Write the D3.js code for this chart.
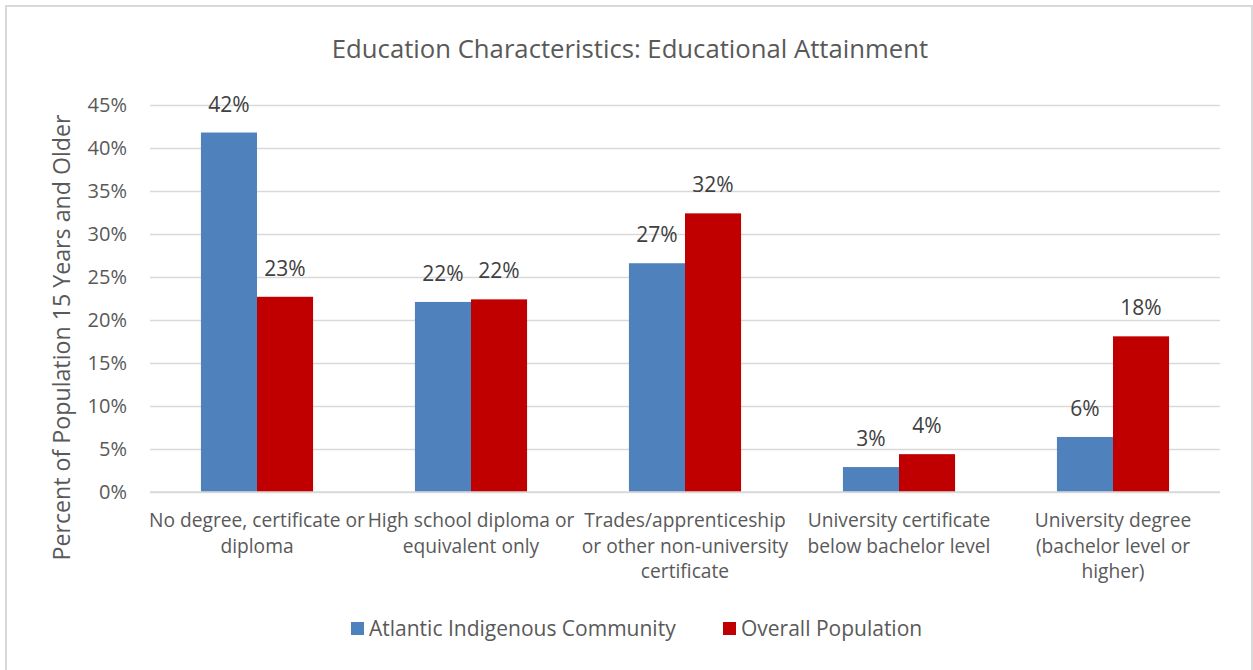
<!DOCTYPE html>
<html>
<head>
<meta charset="utf-8">
<script src="https://cdn.jsdelivr.net/npm/d3@7/dist/d3.min.js"></script>
<style>
  html, body { margin: 0; padding: 0; background: #ffffff; }
  svg { display: block; }
  text { font-family: "Open Sans", Lato, sans-serif; }
</style>
</head>
<body>
<svg id="chart" width="1253" height="670"></svg>
<script>
// Educational attainment, share of population aged 15+ (%)
const categories = [
  "No degree, certificate or\ndiploma",
  "High school diploma or\nequivalent only",
  "Trades/apprenticeship\nor other non-university\ncertificate",
  "University certificate\nbelow bachelor level",
  "University degree\n(bachelor level or\nhigher)"
];
const seriesNames = ["Atlantic Indigenous Community", "Overall Population"];
const indigenousValues = [41.8, 22.1, 26.6, 2.9, 6.4];
const overallValues = [22.7, 22.4, 32.4, 4.4, 18.1];
const yTicks = [0, 5, 10, 15, 20, 25, 30, 35, 40, 45];
const seriesColors = ["#4f81bd", "#c00000"];

const FONT = "'Open Sans', Lato, sans-serif";
const svg = d3.select("#chart");
const W = 1253, H = 670;
const plot = { left: 150, right: 1220, top: 105, bottom: 492 };

// Outer chart frame
svg.append("rect")
  .attr("x", 6).attr("y", 6)
  .attr("width", W - 7).attr("height", H)
  .attr("fill", "#ffffff")
  .attr("stroke", "#d9d9d9").attr("stroke-width", 2);

// Title
svg.append("text")
  .attr("x", 630).attr("y", 58)
  .attr("text-anchor", "middle")
  .attr("font-size", 25.7)
  .attr("fill", "#595959")
  .text("Education Characteristics: Educational Attainment");

const y = d3.scaleLinear().domain([0, 45]).range([plot.bottom, plot.top]);
const x0 = d3.scaleBand().domain(categories).range([plot.left, plot.right]).padding(0);
const bw = x0.bandwidth();
const x1 = d3.scaleBand().domain(seriesNames).range([bw * 0.238, bw * 0.762]).padding(0);

// Horizontal gridlines and y tick labels
const yAxis = d3.axisLeft(y)
  .tickValues(yTicks)
  .tickSize(-(plot.right - plot.left))
  .tickPadding(23)
  .tickFormat(d => d + "%");
const gy = svg.append("g")
  .attr("transform", `translate(${plot.left},0)`)
  .call(yAxis);
gy.select(".domain").remove();
gy.selectAll(".tick line").attr("stroke", "#d9d9d9").attr("stroke-width", 1.5);
gy.selectAll(".tick text")
  .attr("font-size", 20)
  .attr("fill", "#595959")
  .style("font-family", FONT);

// Y axis title
svg.append("text")
  .attr("transform", `translate(70,${(plot.top + plot.bottom) / 2 + 39}) rotate(-90)`)
  .attr("text-anchor", "middle")
  .attr("font-size", 23.2)
  .attr("fill", "#595959")
  .text("Percent of Population 15 Years and Older");

// Bars
const rows = categories.map((c, i) => ({
  category: c,
  values: [
    { series: seriesNames[0], value: indigenousValues[i], color: seriesColors[0] },
    { series: seriesNames[1], value: overallValues[i], color: seriesColors[1] }
  ]
}));

const groups = svg.append("g").selectAll("g")
  .data(rows).join("g")
  .attr("transform", d => `translate(${x0(d.category)},0)`);

groups.selectAll("rect")
  .data(d => d.values).join("rect")
  .attr("x", d => x1(d.series))
  .attr("y", d => y(d.value))
  .attr("width", x1.bandwidth())
  .attr("height", d => y(0) - y(d.value))
  .attr("fill", d => d.color);

// Value labels
groups.selectAll("text.val")
  .data(d => d.values).join("text")
  .attr("class", "val")
  .attr("x", d => x1(d.series) + x1.bandwidth() / 2)
  .attr("y", d => y(d.value) - 21)
  .attr("text-anchor", "middle")
  .attr("font-size", 21)
  .attr("fill", "#404040")
  .text(d => Math.round(d.value) + "%");

// Baseline
svg.append("line")
  .attr("x1", plot.left).attr("x2", plot.right)
  .attr("y1", y(0)).attr("y2", y(0))
  .attr("stroke", "#d9d9d9").attr("stroke-width", 1.5);

// Category labels (multi-line)
const catLabels = svg.append("g").selectAll("text")
  .data(categories).join("text")
  .attr("x", d => x0(d) + bw / 2)
  .attr("y", 527)
  .attr("text-anchor", "middle")
  .attr("font-size", 19.2)
  .attr("fill", "#595959");
catLabels.each(function (d) {
  const t = d3.select(this);
  d.split("\n").forEach((line, i) => {
    t.append("tspan")
      .attr("x", x0(d) + bw / 2)
      .attr("dy", i === 0 ? 0 : 25.5)
      .text(line);
  });
});

// Legend
const legendItems = [
  { name: seriesNames[0], color: seriesColors[0], x: 351 },
  { name: seriesNames[1], color: seriesColors[1], x: 723 }
];
const lg = svg.append("g").selectAll("g")
  .data(legendItems).join("g")
  .attr("transform", d => `translate(${d.x},622)`);
lg.append("rect")
  .attr("width", 13).attr("height", 13)
  .attr("fill", d => d.color);
lg.append("text")
  .attr("x", 18).attr("y", 13.5)
  .attr("font-size", 21)
  .attr("fill", "#595959")
  .text(d => d.name);
</script>
</body>
</html>
